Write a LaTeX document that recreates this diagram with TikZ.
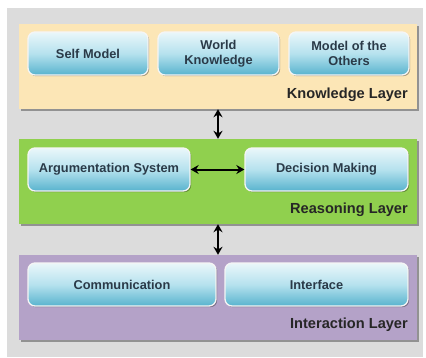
\documentclass[tikz,border=0pt]{standalone}
\usepackage{fontspec}
\setmainfont{Liberation Sans}
\usetikzlibrary{shadows,arrows.meta}
\definecolor{bggray}{HTML}{DCDCDC}
\definecolor{knowcol}{HTML}{FCE6B6}
\definecolor{reascol}{HTML}{90D04E}
\definecolor{intcol}{HTML}{B4A2C8}
\definecolor{boxtop}{HTML}{EAF7FA}
\definecolor{boxmid}{HTML}{B6E2EE}
\definecolor{boxbot}{HTML}{58B3CE}
\definecolor{boxtext}{HTML}{2A3A48}
\definecolor{shadowcol}{HTML}{8A8A8A}
\tikzset{
  layer/.style={draw=none, fill=#1, minimum width=398pt, minimum height=85pt, inner sep=0pt,
    drop shadow={shadow xshift=2pt, shadow yshift=-2pt, fill=shadowcol, opacity=0.9}},
  comp/.style={rounded corners=7pt, draw=white!92!gray, line width=1.3pt, minimum height=43pt, inner sep=0pt,
    top color=boxtop, bottom color=boxbot, middle color=boxmid,
    drop shadow={shadow xshift=1.2pt, shadow yshift=-1.2pt, fill=black, opacity=0.35},
    font=\fontsize{12.8pt}{15pt}\selectfont\bfseries, text=boxtext, align=center},
  layerlabel/.style={anchor=east, inner sep=0pt, font=\fontsize{14.6pt}{16pt}\selectfont\bfseries, text=black!85},
  darrow/.style={{Stealth[length=8pt,width=9pt]}-{Stealth[length=8pt,width=9pt]}, line width=2pt, black}
}
\begin{document}
\begin{tikzpicture}[x=1pt,y=-1pt]
\useasboundingbox (0,0) rectangle (426,357);
\fill[white] (0,0) rectangle (426,357);
\fill[bggray] (7,8) rectangle (423,357);

\node[layer=knowcol] (know) at (218,66.5) {};
\node[layer=reascol] (reas) at (218,181.5) {};
\node[layer=intcol] (inter) at (218,297.5) {};

\node[comp, minimum width=120pt] (self) at (88,53.5) {Self Model};
\node[comp, minimum width=121pt] (world) at (218.5,53.5) {World\\Knowledge};
\node[comp, minimum width=120pt] (others) at (349,53.5) {Model of the\\Others};
\node[layerlabel] (knowlab) at (408,95) {Knowledge Layer};

\node[comp, minimum width=162pt] (arg) at (109,169.5) {Argumentation System};
\node[comp, minimum width=163pt] (dec) at (326.5,169.5) {Decision Making};
\node[layerlabel] (reaslab) at (408,210) {Reasoning Layer};

\node[comp, minimum width=188pt] (comm) at (122,284.5) {Communication};
\node[comp, minimum width=183pt] (iface) at (316.5,284.5) {Interface};
\node[layerlabel] (intlab) at (408,325) {Interaction Layer};

\draw[darrow] (know.south) -- (reas.north);
\draw[darrow] (reas.south) -- (inter.north);
\draw[darrow] (arg.east) -- (dec.west);
\end{tikzpicture}
\end{document}
